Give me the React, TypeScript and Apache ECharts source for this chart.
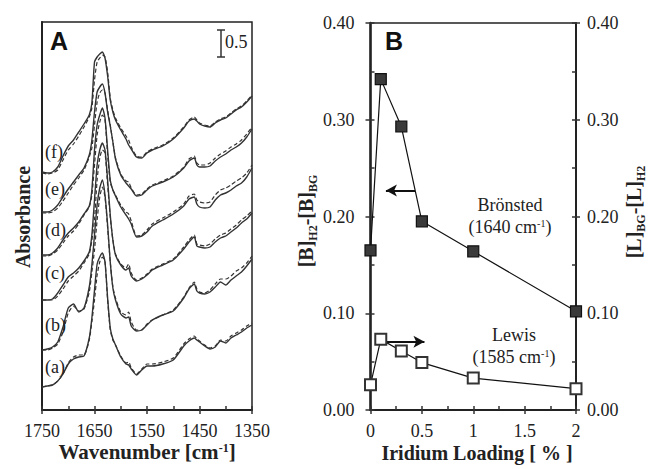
import React, { useEffect, useRef } from "react";
import * as echarts from "echarts";

// ---------- Panel A: IR spectra (heights in plot units, 54 units = 1 absorbance) ----------
const WAVENUMBERS = [
  1750, 1740, 1730, 1720, 1710, 1700, 1690, 1680, 1670, 1660,
  1655, 1650, 1645, 1640, 1635, 1630, 1625, 1620, 1615, 1610,
  1600, 1590, 1585, 1580, 1570, 1560, 1550, 1540, 1520, 1500,
  1480, 1470, 1460, 1455, 1450, 1440, 1430, 1420, 1410, 1400,
  1390, 1380, 1370, 1360, 1350,
];
const UNITS_PER_ABS = 54;
const Y_MAX_UNITS = 388;

const SPEC_A_SOLID = [23, 24, 25, 29, 36, 46, 51, 53, 54, 72, 92, 120, 146, 153, 157, 148, 112, 82, 71, 65, 53, 46, 45, 41, 35, 40, 44, 44, 46, 50, 64, 69, 72, 70, 68, 64, 61, 63, 69, 67, 72, 75, 78, 82, 85];
const SPEC_A_DASHED = [23, 24, 25, 29, 36, 47, 53, 55, 55, 70, 88, 110, 135, 148, 153, 148, 110, 80, 70, 65, 54, 47, 48, 42, 36, 41, 46, 46, 48, 52, 66, 71, 74, 71, 69, 65, 62, 64, 70, 69, 74, 77, 80, 84, 87];
const SPEC_B_SOLID = [60, 61, 63, 68, 83, 102, 106, 98, 102, 123, 145, 175, 205, 222, 230, 215, 185, 148, 122, 110, 96, 92, 93, 84, 79, 80, 85, 90, 95, 99, 112, 121, 126, 119, 117, 116, 118, 123, 128, 125, 130, 134, 138, 144, 151];
const SPEC_B_DASHED = [60, 60, 62, 66, 78, 97, 104, 99, 101, 118, 138, 160, 190, 213, 223, 213, 182, 148, 123, 112, 98, 95, 98, 88, 80, 80, 86, 90, 95, 100, 113, 122, 128, 121, 118, 117, 120, 126, 131, 131, 134, 139, 142, 147, 154];
const SPEC_C_SOLID = [110, 110, 111, 117, 125, 133, 137, 142, 149, 158, 175, 210, 245, 260, 267, 260, 230, 195, 170, 155, 145, 140, 142, 134, 129, 131, 135, 140, 145, 150, 161, 168, 173, 164, 163, 162, 163, 168, 172, 174, 178, 182, 187, 191, 197];
const SPEC_C_DASHED = [110, 110, 110, 114, 121, 129, 134, 139, 147, 156, 170, 190, 230, 252, 260, 257, 225, 193, 170, 156, 146, 142, 146, 137, 130, 132, 136, 141, 146, 151, 163, 170, 175, 166, 165, 164, 166, 171, 175, 177, 181, 185, 190, 194, 199];
const SPEC_D_SOLID = [155, 155, 157, 162, 170, 177, 182, 188, 196, 204, 220, 260, 285, 295, 302, 292, 260, 230, 220, 214, 203, 195, 191, 186, 173, 174, 178, 184, 190, 196, 204, 211, 213, 206, 203, 202, 203, 210, 215, 217, 220, 224, 227, 233, 242];
const SPEC_D_DASHED = [154, 154, 156, 160, 167, 174, 179, 186, 195, 203, 215, 245, 275, 288, 295, 290, 255, 228, 220, 215, 205, 198, 196, 189, 174, 175, 180, 186, 192, 198, 206, 214, 216, 210, 208, 207, 208, 215, 220, 222, 225, 229, 232, 237, 245];
const SPEC_E_SOLID = [198, 198, 200, 205, 213, 221, 228, 235, 242, 255, 270, 298, 318, 323, 326, 317, 298, 284, 268, 251, 235, 227, 224, 221, 214, 215, 220, 224, 228, 233, 242, 249, 252, 245, 243, 243, 244, 249, 253, 256, 260, 263, 267, 273, 281];
const SPEC_E_DASHED = [197, 197, 198, 202, 209, 217, 225, 232, 240, 253, 262, 285, 308, 317, 320, 317, 300, 285, 268, 252, 236, 229, 228, 222, 215, 216, 221, 225, 229, 234, 243, 251, 254, 247, 245, 245, 247, 252, 256, 259, 263, 266, 270, 276, 283];
const SPEC_F_SOLID = [238, 237, 238, 243, 254, 264, 270, 278, 286, 295, 307, 348, 353, 356, 358, 352, 334, 310, 298, 290, 280, 271, 265, 261, 253, 252, 257, 260, 264, 271, 282, 289, 291, 289, 286, 284, 283, 287, 290, 292, 296, 300, 303, 308, 314];
const SPEC_F_DASHED = [237, 236, 237, 240, 250, 260, 266, 274, 283, 293, 302, 330, 348, 352, 355, 353, 338, 312, 300, 292, 282, 274, 270, 263, 254, 253, 258, 261, 265, 272, 283, 290, 293, 290, 287, 285, 284, 288, 291, 293, 297, 301, 304, 309, 315];

const SOLID_CURVES = [SPEC_A_SOLID, SPEC_B_SOLID, SPEC_C_SOLID, SPEC_D_SOLID, SPEC_E_SOLID, SPEC_F_SOLID];
const DASHED_CURVES = [SPEC_A_DASHED, SPEC_B_DASHED, SPEC_C_DASHED, SPEC_D_DASHED, SPEC_E_DASHED, SPEC_F_DASHED];
const CURVE_LABELS = ["(a)", "(b)", "(c)", "(d)", "(e)", "(f)"];
const SCALE_BAR_ABS = 0.5;

// ---------- Panel B ----------
const IR_LOADING = [0, 0.1, 0.3, 0.5, 1, 2];
const BRONSTED = [0.165, 0.342, 0.293, 0.195, 0.164, 0.102];
const LEWIS = [0.026, 0.073, 0.061, 0.049, 0.033, 0.022];

const SERIF = "Liberation Serif, Times New Roman, Tinos, DejaVu Serif, serif";
const SANS = "Liberation Sans, Arial, sans-serif";
const INK = "#222";
const LINE = "#333";

export default function App() {
  const ref = useRef<HTMLDivElement>(null);

  useEffect(() => {
    document.body.style.margin = "0";
    if (!ref.current) return;
    const chart = echarts.init(ref.current, null, { renderer: "svg" });

    const tickLabel = { fontSize: 18, fontFamily: SERIF, color: INK };
    const primaryTick = (len: number) => ({ show: true, inside: false, length: len, lineStyle: { color: LINE, width: 1.5 } });
    const innerTicks = {
      axisTick: { show: true, inside: true, length: 4, lineStyle: { color: LINE, width: 1.5 } },
      minorTick: { show: true, splitNumber: 2, length: 4, lineStyle: { color: LINE, width: 1.5 } },
      axisLabel: { show: false },
      axisLine: { show: false, onZero: false },
      splitLine: { show: false },
    };

    const spectraSeries: any[] = [];
    SOLID_CURVES.forEach((arr, k) => {
      spectraSeries.push({
        type: "line", xAxisIndex: 0, yAxisIndex: 0, showSymbol: false, smooth: 0.2,
        data: WAVENUMBERS.map((w, i) => [w, arr[i] / UNITS_PER_ABS]),
        lineStyle: { color: LINE, width: 1.4 }, silent: true, z: 3,
      });
      spectraSeries.push({
        type: "line", xAxisIndex: 0, yAxisIndex: 0, showSymbol: false, smooth: 0.2,
        data: WAVENUMBERS.map((w, i) => [w, DASHED_CURVES[k][i] / UNITS_PER_ABS]),
        lineStyle: { color: LINE, width: 1.2, type: [4, 2.5] }, silent: true, z: 2,
      });
    });

    const labelYs = [367, 325, 273, 230, 189, 152];
    const bar = SCALE_BAR_ABS * UNITS_PER_ABS;

    const richSub = {
      m: { fontSize: 20, fontWeight: "bold", fontFamily: SERIF, fill: INK, lineHeight: 20, verticalAlign: "top" },
      s: { fontSize: 12, fontWeight: "bold", fontFamily: SERIF, fill: INK, lineHeight: 12, padding: [11, 0, 0, 0], verticalAlign: "top" },
    };
    const richSupBold = {
      m: { fontSize: 21, fontWeight: "bold", fontFamily: SERIF, fill: INK, lineHeight: 21, verticalAlign: "top" },
      p: { fontSize: 12, fontWeight: "bold", fontFamily: SERIF, fill: INK, lineHeight: 12, verticalAlign: "top" },
    };
    const richSup = {
      m: { fontSize: 18, fontFamily: SERIF, fill: INK, lineHeight: 18, verticalAlign: "top" },
      p: { fontSize: 10, fontFamily: SERIF, fill: INK, lineHeight: 10, verticalAlign: "top" },
    };

    const graphic: any[] = [
      { type: "text", left: 50, top: 28, style: { text: "A", font: `bold 25px ${SANS}`, fill: "#111" } },
      { type: "text", left: 385, top: 28, style: { text: "B", font: `bold 25px ${SANS}`, fill: "#111" } },
      { type: "line", shape: { x1: 221, y1: 30, x2: 221, y2: 30 + bar }, style: { stroke: LINE, lineWidth: 1.5 } },
      { type: "line", shape: { x1: 217, y1: 30, x2: 225, y2: 30 }, style: { stroke: LINE, lineWidth: 1.5 } },
      { type: "line", shape: { x1: 217, y1: 30 + bar, x2: 225, y2: 30 + bar }, style: { stroke: LINE, lineWidth: 1.5 } },
      { type: "text", x: 225, y: 42, style: { text: "0.5", font: `18px ${SERIF}`, fill: INK, verticalAlign: "middle" } },
      ...CURVE_LABELS.map((t, i) => ({
        type: "text", x: 45, y: labelYs[i], z: 10,
        style: { text: t, font: `18px ${SERIF}`, fill: INK, verticalAlign: "middle" },
      })),
      {
        type: "text", x: 147, y: 452,
        style: { text: "{m|Wavenumber [cm}{p|-1}{m|]}", rich: richSupBold, align: "center", verticalAlign: "middle" },
      },
      {
        type: "text", x: 477, y: 453,
        style: { text: "Iridium Loading [ % ]", font: `bold 20px ${SERIF}`, fill: INK, align: "center", verticalAlign: "middle" },
      },
      {
        type: "text", x: 23, y: 217, rotation: Math.PI / 2,
        style: { text: "Absorbance", font: `bold 20px ${SERIF}`, fill: INK, align: "center", verticalAlign: "middle" },
      },
      {
        type: "text", x: 306, y: 221, rotation: Math.PI / 2,
        style: { text: "{m|[B]}{s|H2}{m|-[B]}{s|BG}", rich: richSub, align: "center", verticalAlign: "middle" },
      },
      {
        type: "text", x: 634, y: 212, rotation: Math.PI / 2,
        style: { text: "{m|[L]}{s|BG}{m|-[L]}{s|H2}", rich: richSub, align: "center", verticalAlign: "middle" },
      },
      { type: "text", x: 510, y: 205, style: { text: "Brönsted", font: `18px ${SERIF}`, fill: INK, align: "center", verticalAlign: "middle" } },
      { type: "text", x: 510, y: 227, style: { text: "{m|(1640 cm}{p|-1}{m|)}", rich: richSup, align: "center", verticalAlign: "middle" } },
      { type: "text", x: 514, y: 335, style: { text: "Lewis", font: `18px ${SERIF}`, fill: INK, align: "center", verticalAlign: "middle" } },
      { type: "text", x: 514, y: 357, style: { text: "{m|(1585 cm}{p|-1}{m|)}", rich: richSup, align: "center", verticalAlign: "middle" } },
    ];

    const option: any = {
      animation: false,
      textStyle: { fontFamily: SERIF },
      grid: [
        { left: 42, top: 22, width: 210, height: 388, show: true, borderColor: INK, borderWidth: 1.5, backgroundColor: "transparent" },
        { left: 370.5, top: 23, width: 205.5, height: 387, show: true, borderColor: INK, borderWidth: 1.5, backgroundColor: "transparent" },
      ],
      xAxis: [
        {
          gridIndex: 0, type: "value", min: 1350, max: 1750, interval: 100, inverse: true, position: "bottom",
          axisLine: { show: true, onZero: false, lineStyle: { color: INK, width: 2 } },
          axisTick: primaryTick(4), minorTick: { show: false },
          axisLabel: { ...tickLabel, margin: 12, formatter: (v: number) => String(v) }, splitLine: { show: false },
        },
        { gridIndex: 0, type: "value", min: 1350, max: 1750, interval: 100, inverse: true, position: "bottom", ...innerTicks },
        {
          gridIndex: 1, type: "value", min: 0, max: 2, interval: 0.5, position: "bottom",
          axisLine: { show: true, onZero: false, lineStyle: { color: INK, width: 2 } },
          axisTick: primaryTick(4), minorTick: { show: false },
          axisLabel: { ...tickLabel, margin: 12, formatter: (v: number) => String(v) }, splitLine: { show: false },
        },
        { gridIndex: 1, type: "value", min: 0, max: 2, interval: 0.5, position: "bottom", ...innerTicks },
      ],
      yAxis: [
        {
          gridIndex: 0, type: "value", min: 0, max: Y_MAX_UNITS / UNITS_PER_ABS, position: "left",
          axisLine: { show: true, onZero: false, lineStyle: { color: INK, width: 2 } },
          axisTick: { show: false }, axisLabel: { show: false }, splitLine: { show: false },
        },
        {
          gridIndex: 1, type: "value", min: 0, max: 0.4, interval: 0.1, position: "left",
          axisLine: { show: true, onZero: false, lineStyle: { color: INK, width: 2.5 } },
          axisTick: primaryTick(5), minorTick: { show: false },
          axisLabel: { ...tickLabel, margin: 16, formatter: (v: number) => v.toFixed(2) }, splitLine: { show: false },
        },
        { gridIndex: 1, type: "value", min: 0, max: 0.4, interval: 0.1, position: "left", ...innerTicks },
        {
          gridIndex: 1, type: "value", min: 0, max: 0.4, interval: 0.1, position: "right",
          axisLine: { show: true, onZero: false, lineStyle: { color: INK, width: 2 } },
          axisTick: primaryTick(4), minorTick: { show: false },
          axisLabel: { ...tickLabel, margin: 11, formatter: (v: number) => v.toFixed(2) }, splitLine: { show: false },
        },
        { gridIndex: 1, type: "value", min: 0, max: 0.4, interval: 0.1, position: "right", ...innerTicks },
      ],
      series: [
        ...spectraSeries,
        {
          type: "line", name: "Brönsted", xAxisIndex: 2, yAxisIndex: 1, clip: false, z: 5,
          data: IR_LOADING.map((x, i) => [x, BRONSTED[i]]),
          symbol: "rect", symbolSize: 11,
          lineStyle: { color: "#111", width: 1.2 },
          itemStyle: { color: "#3a3a3a", borderColor: "#111", borderWidth: 1.2 },
          markLine: {
            silent: true, symbol: ["none", "arrow"], symbolSize: [9, 11],
            lineStyle: { color: "#111", width: 2, type: "solid" }, label: { show: false },
            data: [[{ coord: [0.433, 0.227] }, { coord: [0.15, 0.227] }]],
          },
        },
        {
          type: "line", name: "Lewis", xAxisIndex: 2, yAxisIndex: 3, clip: false, z: 5,
          data: IR_LOADING.map((x, i) => [x, LEWIS[i]]),
          symbol: "rect", symbolSize: 11,
          lineStyle: { color: "#111", width: 1.2 },
          itemStyle: { color: "#fff", borderColor: "#333", borderWidth: 2 },
          markLine: {
            silent: true, symbol: ["none", "arrow"], symbolSize: [9, 11],
            lineStyle: { color: "#111", width: 2, type: "solid" }, label: { show: false },
            data: [[{ coord: [0.158, 0.0706] }, { coord: [0.525, 0.0706] }]],
          },
        },
      ],
      graphic,
    };

    chart.setOption(option);
    return () => chart.dispose();
  }, []);

  return <div ref={ref} style={{ width: 649, height: 469 }} />;
}
